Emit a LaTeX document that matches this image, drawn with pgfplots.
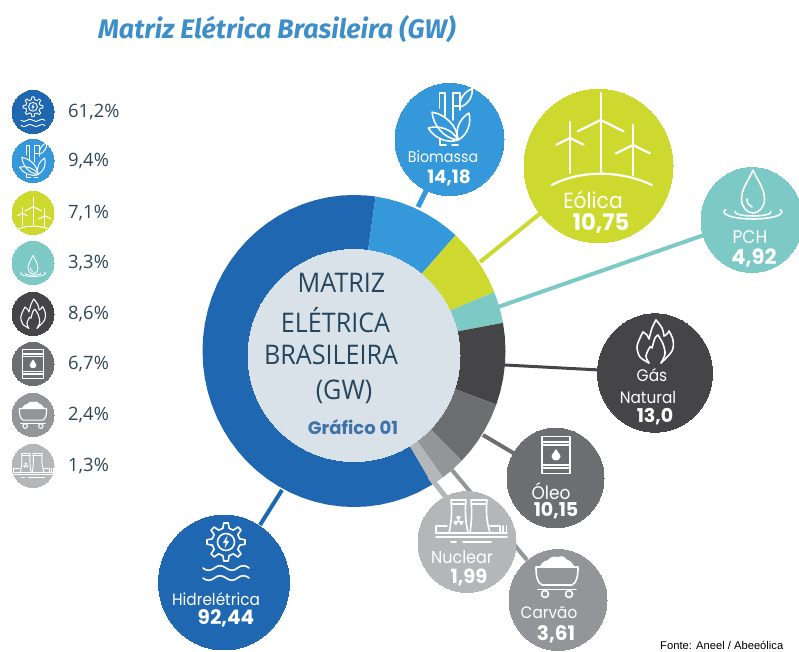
\documentclass[border=0pt]{standalone}
\usepackage{fontspec}
\usepackage{pgfplots}
\pgfplotsset{compat=1.18}
\setmainfont{Open Sans}
\newfontfamily\pop{Poppins}
\newfontfamily\fira{Fira Sans}
\newfontfamily\lib{Liberation Sans}
\definecolor{hyd}{HTML}{1F67B1}
\definecolor{bio}{HTML}{3498DB}
\definecolor{eol}{HTML}{CDD92F}
\definecolor{pch}{HTML}{7CC9C6}
\definecolor{gas}{HTML}{454547}
\definecolor{ole}{HTML}{6D6E71}
\definecolor{car}{HTML}{949598}
\definecolor{nuc}{HTML}{B5B6B8}
\definecolor{inn}{HTML}{D9E2E9}
\definecolor{ttl}{HTML}{3E8EC9}
\definecolor{graf}{HTML}{3F73A8}
\definecolor{dark}{HTML}{24455C}
\definecolor{leg}{HTML}{2F4656}
\pgfplotsset{base/.style={scale only axis,width=799pt,height=652pt,hide axis,clip=false,enlargelimits=false,at={(0,0)},anchor=south west}}
\tikzset{
 ic/.style n args={4}{shift={(#1pt,652pt-#2pt)},x=#3pt,y=#3pt,line width=#4pt,draw=white,fill=white,line cap=round,line join=round}
}
\newcommand\bub[4]{\addplot[only marks,color=#3,mark=*,mark size=#4pt,mark options={fill=#3,draw=#3,line width=0pt,yscale=1.03}] coordinates {(#1,#2)};}
\newcommand\con[5]{\addplot[color=#1,line width=#2pt,no marks] coordinates {#3 #4};}
\newcommand\T[4][]{\node[inner sep=0pt,text=white,#1] at (#2pt,652pt-#3pt) {#4};}
\newcommand\iconhydro{
 \begin{scope}[shift={(0,10)}]
 \draw (0,0) circle (8.5);
 \foreach \a in {0,45,...,315}{\draw[rotate=\a] (-3.2,13.6)--(-2.2,19)--(2.2,19)--(3.2,13.6)--(7.35,11.88);}
 \fill (1.5,6.5)--(-3.2,-1)--(-0.3,-1)--(-1.5,-6.5)--(3.2,1)--(0.3,1)--cycle;
 \end{scope}
 \foreach \y in {-16,-26}{\draw (-23,\y) .. controls (-20,\y-3) and (-15,\y-3) .. (-11.5,\y) .. controls (-8,\y+3) and (-4,\y+3) .. (0,\y) .. controls (4,\y-3) and (8,\y-3) .. (11.5,\y) .. controls (15,\y+3) and (20,\y+3) .. (23,\y);}
}
\newcommand\leaf[4]{\draw[shift={(#1,#2)},rotate=#3] (0,0) .. controls ({.3*#4},{.26*#4}) and ({.75*#4},{.2*#4}) .. (#4,0) .. controls ({.75*#4},{-.2*#4}) and ({.3*#4},{-.26*#4}) .. (0,0);}
\newcommand\iconbio{
 \draw (-5,2) -- (-5,25) -- (-10.7,25) -- (-10.7,10);
 \draw (2.7,-2) -- (2.7,25) -- (10,25) -- (10,8);
 \draw (2.7,12) -- (10,12);
 \leaf{8}{-22}{133}{38}
 \leaf{8}{-22}{158}{32}
 \leaf{8}{-22}{68}{29}
 \leaf{10}{11}{56}{22}
 \draw (-10,-21) -- (-10,-27) -- (-4,-27);
 \draw (2,-27) -- (8,-27);
}
\newcommand\turb[4]{% hubx huby size base
 \draw (#1,#2) -- (#1,#4);
 \draw (#1,#2) -- (#1,#2+#3);
 \draw (#1,#2) -- (#1-.85*#3,#2-.42*#3);
 \draw (#1,#2) -- (#1+.85*#3,#2-.42*#3);
}
\newcommand\iconwind{
 \turb{0.7}{20}{27}{-32}
 \turb{-30}{2}{16}{-33}
 \turb{33}{-5}{20}{-35}
 \draw (-48,-45) .. controls (-20,-30) and (20,-30) .. (52,-45);
}
\newcommand\icondrop{
 \draw (0,20) .. controls (-4,10) and (-11.5,2) .. (-11.5,-9) .. controls (-11.5,-17) and (-6,-23) .. (0,-23) .. controls (6,-23) and (11.5,-17) .. (11.5,-9) .. controls (11.5,2) and (4,10) .. (0,20);
 \draw (-6,-9) .. controls (-6,-13) and (-4,-16) .. (-1,-17);
 \draw (0,-22) ++(160:29 and 7) arc (160:380:29 and 7);
 \draw (0,-22) ++(170:18 and 4) arc (170:370:18 and 4);
}
\newcommand\iconflame{
 \draw plot[smooth,tension=.55] coordinates {(-6,-21) (-15,-15) (-18,-5) (-15,4) (-12,10)};
 \draw plot[smooth,tension=.55] coordinates {(-12,10) (-8,7) (-6,3)};
 \draw plot[smooth,tension=.55] coordinates {(-6,3) (-3,14) (1,22)};
 \draw plot[smooth,tension=.55] coordinates {(1,22) (7,14) (9,6)};
 \draw plot[smooth,tension=.55] coordinates {(9,6) (12,8) (14,11)};
 \draw plot[smooth,tension=.55] coordinates {(14,11) (18,2) (17,-9) (6,-21)};
 \draw plot[smooth,tension=.55] coordinates {(-6,-21) (-9,-14) (-5,-5) (-3,-6)};
 \draw plot[smooth,tension=.55] coordinates {(-3,-6) (0,4) (3,7)};
 \draw plot[smooth,tension=.55] coordinates {(3,7) (8,-2) (10,-12) (6,-21)};
}
\newcommand\iconbarrel{
 \draw (-14,-18.5) rectangle (14,18.5);
 \draw (-14,13) -- (14,13);
 \draw (-14,10) -- (14,10);
 \draw (-14,-10) -- (14,-10);
 \draw (-14,-13) -- (14,-13);
 \fill (0,6) .. controls (-1,3) and (-4.5,1) .. (-4.5,-1.5) .. controls (-4.5,-4) and (-2,-5.5) .. (0,-5.5) .. controls (2,-5.5) and (4.5,-4) .. (4.5,-1.5) .. controls (4.5,1) and (1,3) .. (0,6);
}
\newcommand\iconcart{
 \fill (-17,11) .. controls (-14,15) and (-12,17) .. (-9,17) .. controls (-7,20) and (-3,21) .. (0,20) .. controls (4,21) and (8,21) .. (9,18) .. controls (12,17) and (15,15) .. (17,11) -- cycle;
 \draw (-21,10) -- (21,10) .. controls (21,2) and (20,-6) .. (15,-8) -- (-15,-8) .. controls (-20,-6) and (-21,2) .. (-21,10);
 \draw (-19,-12.5) -- (19,-12.5);
 \draw (-12,-17) circle (3.5);
 \draw (12,-17) circle (3.5);
}
\newcommand\iconnuke{
 \draw (-22,-11) .. controls (-19,3) and (-19,12) .. (-20,22) -- (-5,22) .. controls (-6,12) and (-6,3) .. (-3,-11);
 \draw (-1,-11) .. controls (1,3) and (1,12) .. (0,22) -- (16,22) .. controls (15,12) and (15,3) .. (19,-11);
 \draw (-20,18) -- (-5,18);
 \draw (0,18) -- (16,18);
 \fill (-12.5,1) circle (1.1);
 \foreach \a in {90,210,330}{\fill[shift={(-12.5,1)}] (0,0) -- (\a-30:5) arc (\a-30:\a+30:5) -- cycle;}
 \draw (-24,-4) -- (-35,-4) -- (-35,-11);
 \draw (19,-4) -- (29,-4) -- (29,-11);
 \draw (32,-11) -- (32,-4);
 \draw (35.5,-11) -- (35.5,-4);
 \draw (-35,-11) -- (36,-11);
 \draw (-35,-15) -- (36,-15);
 \draw (-20,-20) -- (-15,-20);
 \draw (-8,-20) -- (20,-20);
}
\begin{document}
\begin{tikzpicture}
\path[use as bounding box,clip] (0,0) rectangle (799pt,652pt);
\begin{axis}[base,xmin=-354,xmax=445,ymin=-292.23,ymax=340.78]
\addplot[fill=hyd,draw=none,data cs=polar] coordinates {(0,0)(81.8,151.5)(85,151.5)(90,151.5)(95,151.5)(100,151.5)(105,151.5)(110,151.5)(115,151.5)(120,151.5)(125,151.5)(130,151.5)(135,151.5)(140,151.5)(145,151.5)(150,151.5)(155,151.5)(160,151.5)(165,151.5)(170,151.5)(175,151.5)(180,151.5)(185,151.5)(190,151.5)(195,151.5)(200,151.5)(205,151.5)(210,151.5)(215,151.5)(220,151.5)(225,151.5)(230,151.5)(235,151.5)(240,151.5)(245,151.5)(250,151.5)(255,151.5)(260,151.5)(265,151.5)(270,151.5)(275,151.5)(280,151.5)(285,151.5)(290,151.5)(295,151.5)(301.2,151.5)} --cycle;
\addplot[fill=bio,draw=none,data cs=polar] coordinates {(0,0)(47.9,151.5)(52,151.5)(57,151.5)(62,151.5)(67,151.5)(72,151.5)(77,151.5)(81.8,151.5)} --cycle;
\addplot[fill=eol,draw=none,data cs=polar] coordinates {(0,0)(22.2,151.5)(27,151.5)(32,151.5)(37,151.5)(42,151.5)(47.9,151.5)} --cycle;
\addplot[fill=pch,draw=none,data cs=polar] coordinates {(0,0)(10.4,151.5)(14,151.5)(18,151.5)(22.2,151.5)} --cycle;
\addplot[fill=gas,draw=none,data cs=polar] coordinates {(0,0)(-20.1,151.5)(-15,151.5)(-10,151.5)(-5,151.5)(0,151.5)(5,151.5)(10.4,151.5)} --cycle;
\addplot[fill=ole,draw=none,data cs=polar] coordinates {(0,0)(-44.7,151.5)(-40,151.5)(-35,151.5)(-30,151.5)(-25,151.5)(-20.1,151.5)} --cycle;
\addplot[fill=car,draw=none,data cs=polar] coordinates {(0,0)(-54.1,151.5)(-50,151.5)(-44.7,151.5)} --cycle;
\addplot[fill=nuc,draw=none,data cs=polar] coordinates {(0,0)(-58.8,151.5)(-56,151.5)(-54.1,151.5)} --cycle;
\end{axis}
\begin{axis}[base,xmin=0,xmax=799,ymin=0,ymax=652,y dir=reverse]
\con{bio}{5}{(418,207)}{(426,191)}{}
\con{eol}{4}{(480,262)}{(542,212)}{}
\con{pch}{4}{(498,307)}{(704,235)}{}
\con{gas}{3}{(505,365)}{(600,370)}{}
\con{ole}{4}{(483,435)}{(515,454)}{}
\con{car}{4}{(452,470)}{(527,560)}{}
\con{nuc}{5}{(430,477)}{(452,505)}{}
\con{hyd}{4}{(282,490)}{(260,525)}{}
\addplot[only marks,color=inn,mark=*,mark size=106pt,mark options={fill=inn,draw=inn,line width=0pt}] coordinates {(354,355.5)};
\bub{449.5}{139.5}{bio}{54.5}
\bub{598.5}{166}{eol}{74.5}
\bub{752}{220}{pch}{51}
\bub{655}{373}{gas}{57.5}
\bub{555.5}{478}{ole}{48.5}
\bub{467}{542}{nuc}{49}
\bub{558}{600}{car}{49}
\bub{224}{582.5}{hyd}{65.5}
\bub{33}{112}{hyd}{21}
\bub{33}{161}{bio}{21}
\bub{33}{213}{eol}{21}
\bub{33}{263}{pch}{21}
\bub{33}{314}{gas}{21}
\bub{33}{364}{ole}{21}
\bub{33}{415}{car}{21}
\bub{33}{466}{nuc}{21}
\end{axis}
% icons
\begin{scope}[ic={226}{552}{1}{1.6}]\iconhydro\end{scope}
\begin{scope}[ic={33}{112}{.52}{.9}]\iconhydro\end{scope}
\begin{scope}[ic={450}{118}{1}{1.6}]\iconbio\end{scope}
\begin{scope}[ic={33}{161}{.62}{1}]\iconbio\end{scope}
\begin{scope}[ic={600}{140}{1}{2.2}]\iconwind\end{scope}
\begin{scope}[ic={33}{214}{.36}{1}]\iconwind\end{scope}
\begin{scope}[ic={753}{190}{1}{1.6}]\icondrop\end{scope}
\begin{scope}[ic={33}{264}{.43}{.9}]\icondrop\end{scope}
\begin{scope}[ic={655}{342}{1}{1.6}]\iconflame\end{scope}
\begin{scope}[ic={33}{314}{.68}{1.1}]\iconflame\end{scope}
\begin{scope}[ic={556}{455}{1}{1.6}]\iconbarrel\end{scope}
\begin{scope}[ic={33}{364}{.77}{1.1}]\iconbarrel\end{scope}
\begin{scope}[ic={557}{577}{1}{1.6}]\iconcart\end{scope}
\begin{scope}[ic={33}{415}{.65}{1.1}]\iconcart\end{scope}
\begin{scope}[ic={471}{522}{1}{1.6}]\iconnuke\end{scope}
\begin{scope}[ic={33}{466}{.57}{.9}]\iconnuke\end{scope}
% title
\T[text=ttl,anchor=west]{98}{29}{\fira\fontsize{26.8}{27}\selectfont\bfseries\itshape Matriz Elétrica Brasileira (GW)}
% legend
\foreach \y/\v in {112/{61,2\%},161/{9,4\%},213/{7,1\%},263/{3,3\%},314/{8,6\%},364/{6,7\%},415/{2,4\%},466/{1,3\%}}{
 \T[text=leg,anchor=west]{68}{\y}{\fontsize{18.4}{19}\selectfont\v}
}
% centre
\newcommand\CT[3]{\T[text=dark]{#1}{#2}{\scalebox{.93}[1]{\fontsize{27}{27}\selectfont #3}}}
\CT{341.5}{283}{MATRIZ}
\CT{335.5}{320}{ELÉTRICA}
\CT{331}{355}{BRASILEIRA}
\CT{344}{392}{(GW)}
\T[text=graf]{353}{427}{\pop\fontsize{18}{18}\selectfont\bfseries Gráfico 01}
% bubble labels
\newcommand\LB[4]{\T{#1}{#2}{\scalebox{1}[1.08]{\pop\fontsize{#4}{#4}\selectfont #3}}}
\newcommand\NB[4]{\T{#1}{#2}{\pop\fontsize{#4}{#4}\selectfont\bfseries #3}}
\LB{443}{157}{Biomassa}{14.3}
\NB{449}{178}{14,18}{18.4}
\LB{593}{200}{Eólica}{20.3}
\NB{601}{223}{10,75}{22.8}
\LB{750}{237}{PCH}{17}
\NB{754}{258}{4,92}{21}
\LB{652}{375}{Gás}{15.5}
\LB{648}{397}{Natural}{15.3}
\NB{655}{417}{13,0}{19}
\LB{551}{491}{Óleo}{17}
\NB{556}{511}{10,15}{19}
\LB{462}{557}{Nuclear}{16}
\NB{469}{577}{1,99}{19.5}
\LB{549}{613}{Carvão}{15.3}
\NB{556}{634}{3,61}{20}
\LB{216}{599}{Hidrelétrica}{15.3}
\NB{226}{618}{92,44}{20}
\T[text=black,anchor=west]{660}{645}{\lib\fontsize{11.2}{11.2}\selectfont Fonte: Aneel / Abeeólica}
\end{tikzpicture}
\end{document}
